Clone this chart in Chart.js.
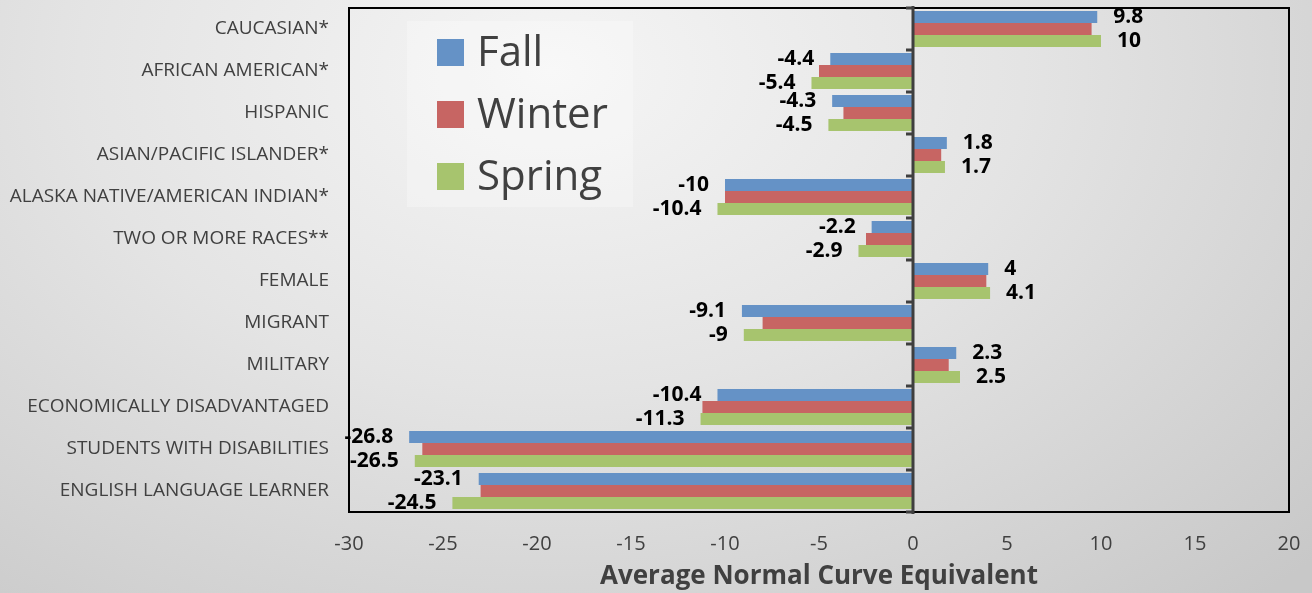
<!DOCTYPE html>
<html>
<head>
<meta charset="utf-8">
<script src="https://cdn.jsdelivr.net/npm/chart.js@4.4.1/dist/chart.umd.min.js"></script>
<style>
  html, body { margin: 0; padding: 0; }
  body {
    width: 1312px; height: 593px; overflow: hidden;
    background: radial-gradient(ellipse 80% 120% at 42% 12%, #f5f5f5 0%, #e4e4e4 45%, #c8c8c8 100%);
  }
  canvas { display: block; }
</style>
</head>
<body>
<canvas id="myChart" width="1312" height="593"></canvas>
<script>
// Nhóm học sinh (trục Y)
const categories = [
  "CAUCASIAN*", "AFRICAN AMERICAN*", "HISPANIC", "ASIAN/PACIFIC ISLANDER*",
  "ALASKA NATIVE/AMERICAN INDIAN*", "TWO OR MORE RACES**", "FEMALE", "MIGRANT",
  "MILITARY", "ECONOMICALLY DISADVANTAGED", "STUDENTS WITH DISABILITIES", "ENGLISH LANGUAGE LEARNER"
];
const fallValues = [9.8, -4.4, -4.3, 1.8, -10, -2.2, 4, -9.1, 2.3, -10.4, -26.8, -23.1];
const winterValues = [9.5, -5.0, -3.7, 1.5, -10.0, -2.5, 3.9, -8.0, 1.9, -11.2, -26.1, -23.0];
const springValues = [10, -5.4, -4.5, 1.7, -10.4, -2.9, 4.1, -9, 2.5, -11.3, -26.5, -24.5];
const xTicks = [-30, -25, -20, -15, -10, -5, 0, 5, 10, 15, 20];

const FONT = "'Open Sans', 'Noto Sans', sans-serif";
const TEXT = "#404040";

// Khung vùng vẽ, đường 0 và nhãn giá trị
const decorPlugin = {
  id: "decor",
  beforeDatasetsDraw(chart) {
    const { ctx } = chart;
    const a = chart.chartArea;
    // nền chú thích
    ctx.save();
    ctx.fillStyle = "rgba(255,255,255,0.28)";
    ctx.fillRect(a.left + 58, a.top + 13, 226, 186);
    // chú thích
    chart.data.datasets.forEach((ds, i) => {
      const y = a.top + 31 + i * 62;
      ctx.fillStyle = ds.backgroundColor;
      ctx.fillRect(a.left + 88, y, 27, 27);
      ctx.fillStyle = TEXT;
      ctx.font = "42px " + FONT;
      ctx.textBaseline = "alphabetic";
      ctx.textAlign = "left";
      ctx.fillText(ds.label, a.left + 128, y + 27);
    });
    ctx.restore();
  },
  afterDatasetsDraw(chart) {
    const { ctx } = chart;
    const a = chart.chartArea;
    const x = chart.scales.x;
    const y = chart.scales.y;
    ctx.save();
    // khung
    ctx.strokeStyle = "#000";
    ctx.lineWidth = 2;
    ctx.strokeRect(a.left, a.top, a.right - a.left, a.bottom - a.top);
    // đường 0
    const x0 = Math.round(x.getPixelForValue(0));
    ctx.fillStyle = "#3f3f3f";
    ctx.fillRect(x0 - 1.5, a.top - 2, 3, a.bottom - a.top + 4);
    const step = y.getPixelForValue(1) - y.getPixelForValue(0);
    for (let i = 0; i <= categories.length; i++) {
      const yy = y.getPixelForValue(i) - step / 2;
      ctx.fillRect(x0 - 7, yy - 1.5, 7, 3);
    }
    // nhãn giá trị (Fall và Spring)
    ctx.fillStyle = "#000";
    ctx.font = "bold 21px " + FONT;
    ctx.textBaseline = "middle";
    [0, 2].forEach(di => {
      const meta = chart.getDatasetMeta(di);
      const vals = chart.data.datasets[di].data;
      meta.data.forEach((bar, j) => {
        const v = vals[j];
        if (v >= 0) {
          ctx.textAlign = "left";
          ctx.fillText(String(v), bar.x + 16, bar.y);
        } else {
          ctx.textAlign = "right";
          ctx.fillText(String(v), bar.x - 16, bar.y);
        }
      });
    });
    ctx.restore();
  }
};

const data = {
  labels: categories,
  datasets: [
    { label: "Fall", data: fallValues, backgroundColor: "#6592c6" },
    { label: "Winter", data: winterValues, backgroundColor: "#c76563" },
    { label: "Spring", data: springValues, backgroundColor: "#a7c46e" }
  ]
};

const config = {
  type: "bar",
  data: data,
  options: {
    indexAxis: "y",
    responsive: false,
    animation: false,
    devicePixelRatio: 1,
    layout: { padding: { top: 8, right: 23, left: 0, bottom: 0 } },
    datasets: { bar: { categoryPercentage: 0.857, barPercentage: 1.0 } },
    plugins: { legend: { display: false }, tooltip: { enabled: false } },
    scales: {
      x: {
        min: -30,
        max: 20,
        afterBuildTicks: s => { s.ticks = xTicks.map(v => ({ value: v })); },
        grid: { display: false, drawTicks: false },
        border: { display: false },
        ticks: { color: TEXT, font: { family: FONT, size: 20 }, padding: 20 },
        title: {
          display: true,
          text: "Average Normal Curve Equivalent",
          color: TEXT,
          font: { family: FONT, size: 26, weight: "bold" },
          padding: { top: 0, bottom: 1 }
        },
        afterFit: s => { s.height = 81; s.paddingLeft = 0; s.paddingRight = 0; }
      },
      y: {
        grid: { display: false, drawTicks: false },
        border: { display: false },
        ticks: { color: TEXT, font: { family: FONT, size: 19 }, padding: 20 },
        afterFit: s => { s.width = 349; s.paddingTop = 0; s.paddingBottom = 0; }
      }
    }
  },
  plugins: [decorPlugin]
};

const ctx = document.getElementById("myChart").getContext("2d");
new Chart(ctx, config);
</script>
</body>
</html>
